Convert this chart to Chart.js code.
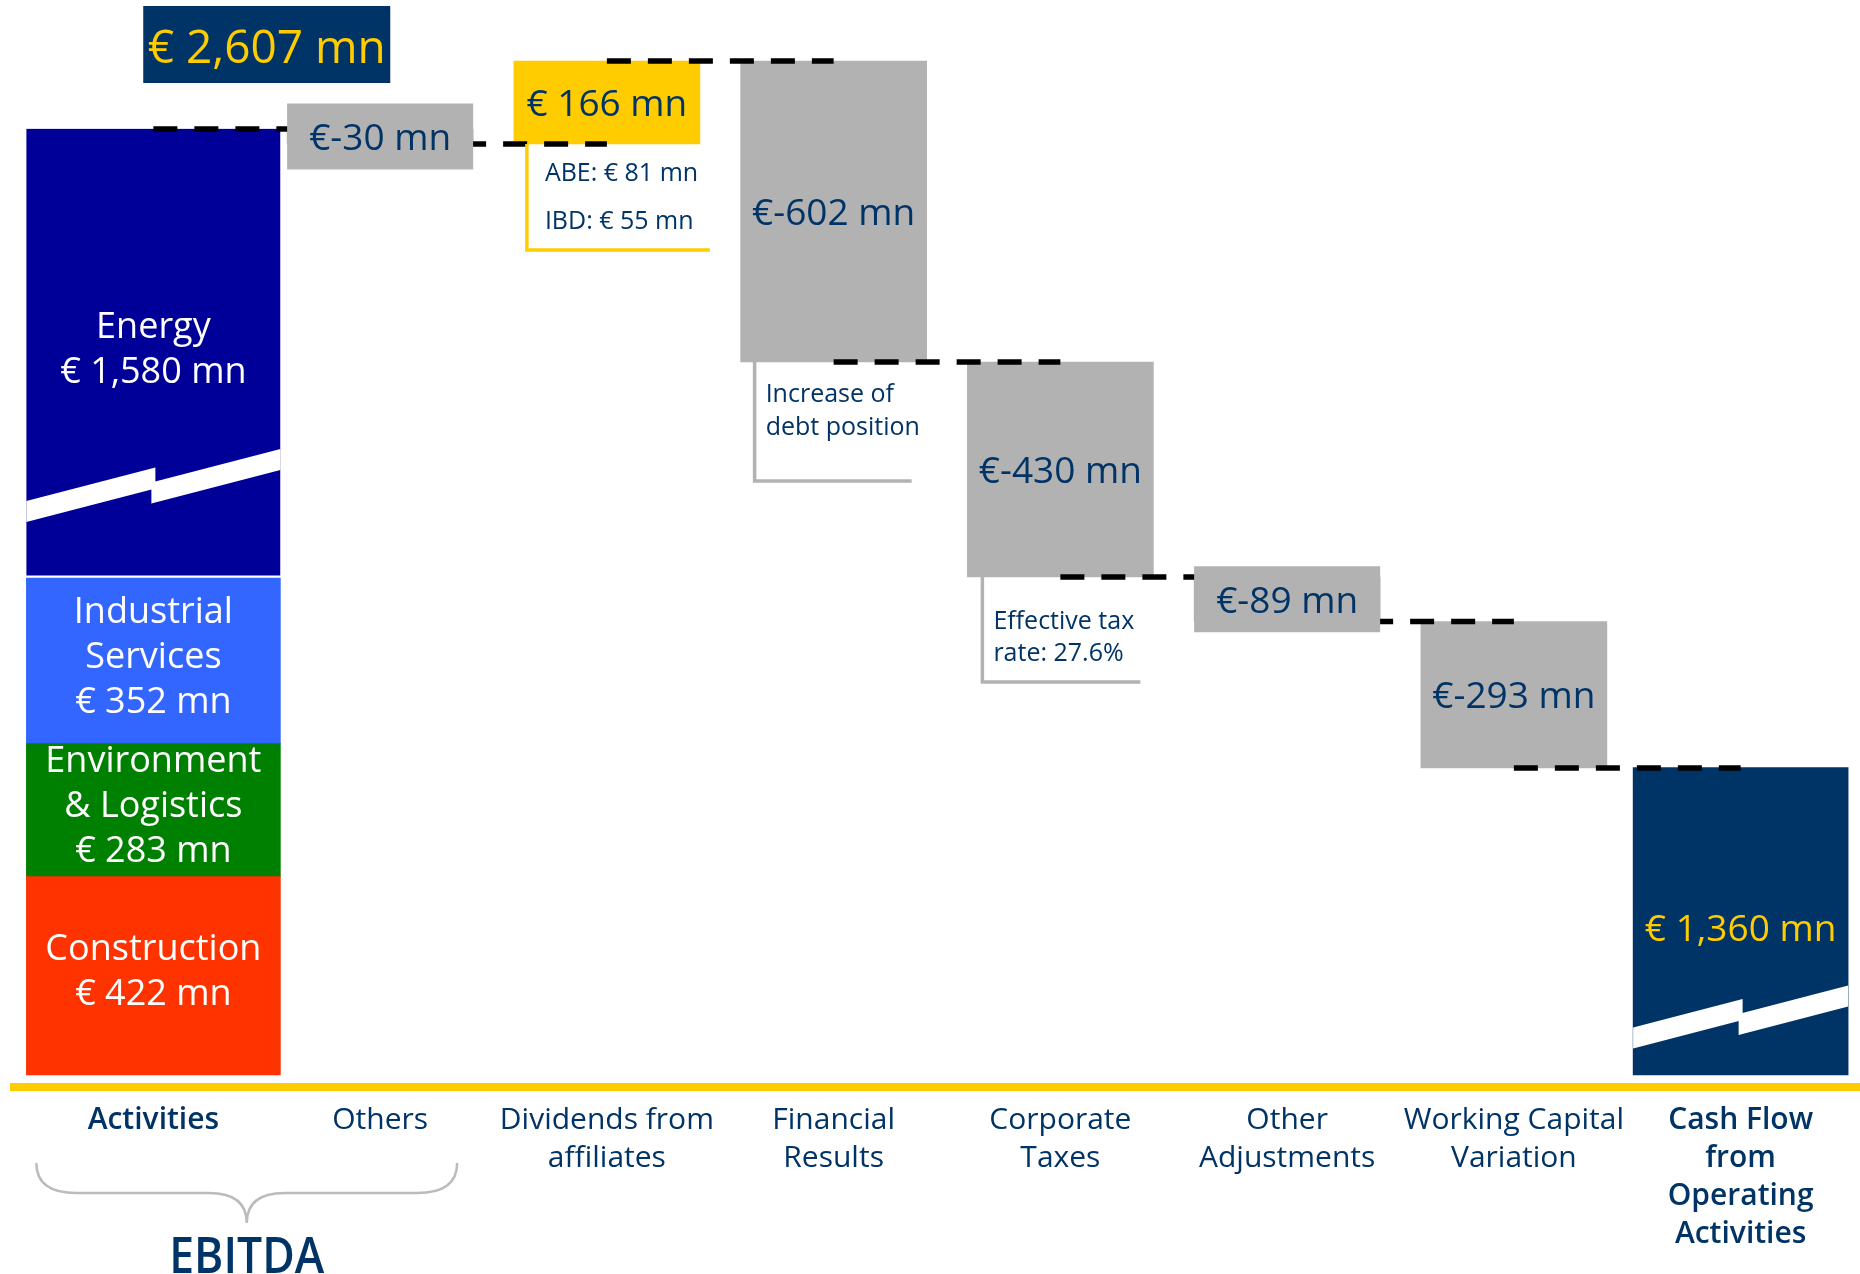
<!DOCTYPE html>
<html>
<head>
<meta charset="utf-8">
<title>Cash Flow from Operating Activities</title>
<script src="https://cdn.jsdelivr.net/npm/chart.js@4.4.1/dist/chart.umd.min.js"></script>
<style>
  html, body { margin: 0; padding: 0; background: #fff; }
  canvas { display: block; }
</style>
</head>
<body>
<canvas id="bridge" width="1860" height="1274"></canvas>
<script>
// categories along the bottom
const categories = [
    ['Activities'],
    ['Others'],
    ['Dividends from', 'affiliates'],
    ['Financial', 'Results'],
    ['Corporate', 'Taxes'],
    ['Other', 'Adjustments'],
    ['Working Capital', 'Variation'],
    ['Cash Flow', 'from', 'Operating', 'Activities']
];

// EBITDA by activity, stacked bottom to top
const segmentNames = [['Construction'], ['Environment', '& Logistics'], ['Industrial', 'Services'], ['Energy']];
const segmentValues = [422, 283, 352, 1580];

// steps from Others to Working Capital Variation (€ mn)
const stepValues = [-30, 166, -602, -430, -89, -293];
const cashFlowValue = 1360;

// side notes
const dividendNotes = ['ABE: € 81 mn', 'IBD: € 55 mn'];
const financialNotes = ['Increase of', 'debt position'];
const taxNotes = ['Effective tax', 'rate: 27.6%'];

const NAVY = '#003366';
const GREY = '#B2B2B2';
const YELLOW = '#FFCC00';
const segmentColors = ['#FF3300', '#008000', '#3366FF', '#000099'];
const FONT = '"Open Sans", "Noto Sans", sans-serif';

const fmt = v => (v < 0 ? '€' : '€ ') + v.toLocaleString('en-US') + ' mn';

// running totals for the waterfall
const activitiesTotal = segmentValues.reduce((a, b) => a + b, 0);
const ebitda = activitiesTotal + stepValues[0];
const levels = [activitiesTotal];
const stepBars = [null];
let running = activitiesTotal;
stepValues.forEach(v => {
    stepBars.push([running, running + v]);
    running += v;
    levels.push(running);
});
stepBars.push(null);

// linear axis with one collapsed range (the zigzag breaks on the tall bars)
class BrokenLinearScale extends Chart.LinearScale {
    getPixelForValue(value) {
        if (value === null || value === undefined) return NaN;
        const from = this.options.breakFrom;
        const to = this.options.breakTo;
        const cut = to - from;
        let v = value;
        if (v >= to) v -= cut;
        else if (v > from) v = from;
        return this.getPixelForDecimal((v - this.min) / (this.max - this.min - cut));
    }
}
BrokenLinearScale.id = 'brokenLinear';
BrokenLinearScale.defaults = Chart.LinearScale.defaults;
Chart.register(BrokenLinearScale);

function textMid(ctx, text, x, yMid, size) {
    ctx.fillText(text, x, yMid + size * 0.36);
}

function drawLines(ctx, lines, x, yMid, size, lineH) {
    const top = yMid - (lines.length - 1) * lineH / 2;
    lines.forEach((t, i) => textMid(ctx, t, x, top + i * lineH, size));
}

function drawBreak(ctx, el, y0) {
    const half = el.width / 2;
    const xL = el.x - half, xR = el.x + half, xM = el.x;
    const k = 0.26, h = 10.5, s = 7;
    ctx.fillStyle = '#fff';
    ctx.beginPath();
    ctx.moveTo(xL, y0 - s + k * half - h);
    ctx.lineTo(xM + 2, y0 - s - k * 2 - h);
    ctx.lineTo(xM + 2, y0 - s - k * 2 + h);
    ctx.lineTo(xL, y0 - s + k * half + h);
    ctx.closePath();
    ctx.fill();
    ctx.beginPath();
    ctx.moveTo(xM - 2, y0 + s + k * 2 - h);
    ctx.lineTo(xR, y0 + s - k * half - h);
    ctx.lineTo(xR, y0 + s - k * half + h);
    ctx.lineTo(xM - 2, y0 + s + k * 2 + h);
    ctx.closePath();
    ctx.fill();
}

function drawNote(ctx, el, lines, color, opt) {
    const left = el.x - el.width / 2;
    const right = el.x + el.width / 2;
    const bottom = Math.max(el.y, el.base);
    ctx.save();
    ctx.strokeStyle = color;
    ctx.lineWidth = 3.5;
    ctx.beginPath();
    ctx.moveTo(left + opt.inset, bottom);
    ctx.lineTo(left + opt.inset, bottom + opt.drop);
    ctx.lineTo(right + opt.reach, bottom + opt.drop);
    ctx.stroke();
    ctx.fillStyle = NAVY;
    ctx.font = '400 25px ' + FONT;
    ctx.textAlign = 'left';
    lines.forEach((t, i) => textMid(ctx, t, left + opt.textX, bottom + opt.textY + i * opt.gap, 25));
    ctx.restore();
}

const bridgeDecor = {
    id: 'bridgeDecor',
    afterDatasetsDraw(chart) {
        const {ctx, chartArea, scales: {x, yStack, yFlow}} = chart;
        const stackMetas = segmentValues.map((v, i) => chart.getDatasetMeta(i).data[0]);
        const steps = chart.getDatasetMeta(segmentValues.length).data;
        const cash = chart.getDatasetMeta(segmentValues.length + 1).data[categories.length - 1];
        const energy = stackMetas[stackMetas.length - 1];

        ctx.save();
        // axis breaks
        drawBreak(ctx, energy, yStack.getPixelForValue(yStack.options.breakFrom));
        drawBreak(ctx, cash, yFlow.getPixelForValue(yFlow.options.breakFrom));

        // yellow base line
        ctx.fillStyle = YELLOW;
        ctx.fillRect(10, chartArea.bottom + 8, chart.width - 10, 8);

        // dashed connectors
        ctx.save();
        ctx.setLineDash([24, 17]);
        ctx.lineWidth = 5.5;
        ctx.strokeStyle = '#000';
        levels.forEach((lv, i) => {
            const y = yFlow.getPixelForValue(lv);
            ctx.beginPath();
            ctx.moveTo(x.getPixelForValue(i), y);
            ctx.lineTo(x.getPixelForValue(i + 1), y);
            ctx.stroke();
        });
        ctx.restore();

        // notes under bars
        drawNote(ctx, steps[2], dividendNotes, YELLOW, {inset: 13, drop: 106, reach: 10, textX: 31, textY: 28, gap: 48});
        drawNote(ctx, steps[3], financialNotes, GREY, {inset: 14, drop: 119, reach: -15, textX: 25, textY: 31, gap: 33});
        drawNote(ctx, steps[4], taxNotes, GREY, {inset: 15, drop: 105, reach: -13, textX: 26, textY: 43, gap: 32});

        ctx.textAlign = 'center';

        // segment labels
        ctx.fillStyle = '#fff';
        ctx.font = '400 36px ' + FONT;
        stackMetas.forEach((el, i) => {
            const lines = segmentNames[i].concat([fmt(segmentValues[i])]);
            drawLines(ctx, lines, el.x, (el.y + el.base) / 2 - 6, 36, 45);
        });

        // step labels (short bars get a label plate in the bar colour)
        ctx.font = '400 37px ' + FONT;
        stepValues.forEach((v, i) => {
            const el = steps[i + 1];
            const mid = (el.y + el.base) / 2;
            const barH = Math.abs(el.base - el.y);
            if (barH < 66) {
                ctx.fillStyle = v > 0 ? YELLOW : GREY;
                ctx.fillRect(el.x - el.width / 2, mid - 33, el.width, 66);
            }
            ctx.fillStyle = NAVY;
            textMid(ctx, fmt(v), el.x, mid, 37);
        });
        ctx.fillStyle = YELLOW;
        textMid(ctx, fmt(cashFlowValue), cash.x, (cash.y + cash.base) / 2 + 6, 37);

        // EBITDA total box
        const tx = (x.getPixelForValue(0) + x.getPixelForValue(1)) / 2;
        ctx.fillStyle = NAVY;
        ctx.fillRect(tx - 123.5, 6, 247, 77);
        ctx.fillStyle = YELLOW;
        ctx.font = '400 46px ' + FONT;
        textMid(ctx, fmt(ebitda), tx, 46, 46);

        // brace under Activities + Others
        const bl = x.getPixelForValue(0) - 117;
        const br = x.getPixelForValue(1) + 77;
        const bm = (bl + br) / 2;
        const top = chartArea.bottom + 88, mid = chartArea.bottom + 118, tip = chartArea.bottom + 148;
        ctx.strokeStyle = '#BBBBBB';
        ctx.lineWidth = 2.5;
        ctx.beginPath();
        ctx.moveTo(bl, top);
        ctx.quadraticCurveTo(bl, mid, bl + 40, mid);
        ctx.lineTo(bm - 38, mid);
        ctx.quadraticCurveTo(bm, mid, bm, tip);
        ctx.moveTo(br, top);
        ctx.quadraticCurveTo(br, mid, br - 40, mid);
        ctx.lineTo(bm + 38, mid);
        ctx.quadraticCurveTo(bm, mid, bm, tip);
        ctx.stroke();

        ctx.fillStyle = NAVY;
        ctx.font = '600 50px ' + FONT;
        ctx.translate(bm, chartArea.bottom + 198);
        ctx.scale(0.89, 1);
        ctx.fillText('EBITDA', 0, 0);
        ctx.restore();
    }
};

const emptyRow = () => categories.map(() => null);

const datasets = segmentValues.map((v, i) => {
    const data = emptyRow();
    data[0] = v;
    return {
        label: segmentNames[i].join(' '),
        data: data,
        backgroundColor: segmentColors[i],
        yAxisID: 'yStack',
        stack: 'activities',
        grouped: false,
        clip: false,
        barThickness: 254,
        borderColor: '#fff',
        borderWidth: i === segmentValues.length - 1 ? {top: 0, left: 0, right: 0, bottom: 3} : 0,
        borderSkipped: false
    };
});

datasets.push({
    label: 'Steps',
    data: stepBars,
    backgroundColor: ctx => (stepValues[ctx.dataIndex - 1] > 0 ? YELLOW : GREY),
    yAxisID: 'yFlow',
    grouped: false,
    barThickness: 186
});

const cashRow = emptyRow();
cashRow[categories.length - 1] = cashFlowValue;
datasets.push({
    label: 'Cash Flow from Operating Activities',
    data: cashRow,
    backgroundColor: NAVY,
    yAxisID: 'yFlow',
    grouped: false,
    clip: false,
    barThickness: 215
});

new Chart(document.getElementById('bridge').getContext('2d'), {
    type: 'bar',
    data: { labels: categories, datasets: datasets },
    options: {
        responsive: false,
        animation: false,
        events: [],
        layout: { padding: { left: 40, right: 6, top: 0, bottom: 0 } },
        plugins: { legend: { display: false }, tooltip: { enabled: false } },
        scales: {
            x: {
                offset: true,
                grid: { display: false, drawTicks: false },
                border: { display: false },
                ticks: {
                    color: NAVY,
                    padding: 26,
                    maxRotation: 0,
                    autoSkip: false,
                    font: c => ({
                        family: FONT,
                        size: 30,
                        lineHeight: 1.27,
                        weight: (c.index === 0 || c.index === categories.length - 1) ? '600' : '400'
                    })
                },
                afterFit: s => { s.height = 199; }
            },
            yStack: {
                type: 'brokenLinear',
                display: false,
                stacked: true,
                min: 0,
                max: 2911,
                breakFrom: 1254,
                breakTo: 1878
            },
            yFlow: {
                type: 'brokenLinear',
                display: false,
                stacked: false,
                min: 0,
                max: 2895,
                breakFrom: 116,
                breakTo: 861
            }
        }
    },
    plugins: [bridgeDecor]
});
</script>
</body>
</html>
